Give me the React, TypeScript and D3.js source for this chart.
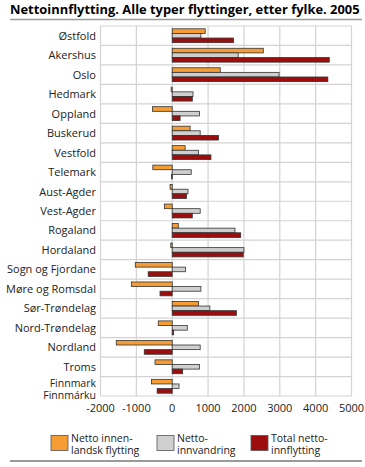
import React from "react";
import * as d3 from "d3";

const categories = [
  "Østfold", "Akershus", "Oslo", "Hedmark", "Oppland", "Buskerud", "Vestfold",
  "Telemark", "Aust-Agder", "Vest-Agder", "Rogaland", "Hordaland",
  "Sogn og Fjordane", "Møre og Romsdal", "Sør-Trøndelag", "Nord-Trøndelag",
  "Nordland", "Troms", "Finnmark\nFinnmárku",
];
const innenlandsk = [920, 2540, 1340, -30, -550, 500, 360, -540, -60, -220, 170, -40, -1030, -1140, 730, -390, -1560, -480, -580];
const innvandring = [800, 1840, 2980, 580, 760, 780, 730, 530, 440, 780, 1750, 2000, 370, 800, 1050, 420, 780, 760, 190];
const total = [1710, 4380, 4340, 560, 220, 1290, 1080, -20, 400, 560, 1910, 1980, -670, -340, 1790, 40, -780, 290, -420];
const ticks = [-2000, -1000, 0, 1000, 2000, 3000, 4000, 5000];
const seriesNames = ["Netto innen-\nlandsk flytting", "Netto-\ninnvandring", "Total netto-\ninnflytting"];
const seriesColors = ["#F59D34", "#CFCFCF", "#9C0E0E"];

const FONT = "'Open Sans', 'DejaVu Sans', sans-serif";

export default function App() {
  const W = 365, H = 467;
  const x = d3.scaleLinear().domain([-2000, 5000]).range([100.5, 351.5]);
  const y = d3.scaleBand<string>().domain(categories).range([26, 396]);
  const inner = d3.scaleBand<number>().domain([0, 1, 2]).range([2.8, y.bandwidth() - 2.8]);
  const series = [innenlandsk, innvandring, total];
  const legendX = [51, 157, 251];

  return (
    <svg width={W} height={H} style={{ position: "absolute", left: 0, top: 0 }} fontFamily={FONT}>
      <rect width={W} height={H} fill="#fff" />
      <text x={10} y={14} fontSize={12.9} fontWeight="bold" fill="#000">
        Nettoinnflytting. Alle typer flyttinger, etter fylke. 2005
      </text>
      <line x1={10} x2={362} y1={19.5} y2={19.5} stroke="#9a9a9a" strokeWidth={1.3} />

      {/* grid */}
      {categories.map((c, i) => (
        <line key={"h" + i} x1={x(-2000)} x2={x(5000)} y1={y(c)!} y2={y(c)!} stroke="#d3d3d3" strokeWidth={1.2} />
      ))}
      <line x1={x(-2000)} x2={x(5000)} y1={396} y2={396} stroke="#d3d3d3" strokeWidth={1.2} />
      {ticks.map((t) => (
        <line key={"v" + t} x1={x(t)} x2={x(t)} y1={26} y2={396} stroke="#d3d3d3" strokeWidth={1.2} />
      ))}

      {/* bars */}
      {categories.map((c, i) => (
        <g key={c} transform={`translate(0,${y(c)})`}>
          {series.map((s, k) => {
            const v = s[i];
            const x0 = x(Math.min(0, v));
            const w = Math.abs(x(v) - x(0));
            return (
              <rect key={k} x={x0} y={inner(k)!} width={Math.max(w, 0.8)} height={inner.bandwidth()}
                fill={seriesColors[k]} stroke="#333" strokeWidth={0.8} />
            );
          })}
        </g>
      ))}

      {/* category labels */}
      {categories.map((c) => {
        const lines = c.split("\n");
        const cy = y(c)! + y.bandwidth() / 2;
        return (
          <text key={"l" + c} x={96} textAnchor="end" fontSize={lines.length > 1 ? 10.5 : 11} fill="#222">
            {lines.map((ln, j) => (
              <tspan key={j} x={96} y={lines.length > 1 ? cy + 0.5 + j * 12.5 : cy + 4}>{ln}</tspan>
            ))}
          </text>
        );
      })}

      {/* tick labels */}
      {ticks.map((t) => (
        <text key={"t" + t} x={x(t)} y={412} textAnchor="middle" fontSize={11} fill="#222">{t}</text>
      ))}

      {/* legend */}
      {seriesNames.map((n, k) => (
        <g key={n}>
          <rect x={legendX[k]} y={435.5} width={17} height={15} fill={seriesColors[k]} stroke="#555" strokeWidth={0.8} />
          <text fontSize={10.5} fill="#222">
            {n.split("\n").map((ln, j) => (
              <tspan key={j} x={legendX[k] + 20} y={441.5 + j * 12.5}>{ln}</tspan>
            ))}
          </text>
        </g>
      ))}
      <line x1={10} x2={362} y1={461} y2={461} stroke="#9a9a9a" strokeWidth={2} />
    </svg>
  );
}
